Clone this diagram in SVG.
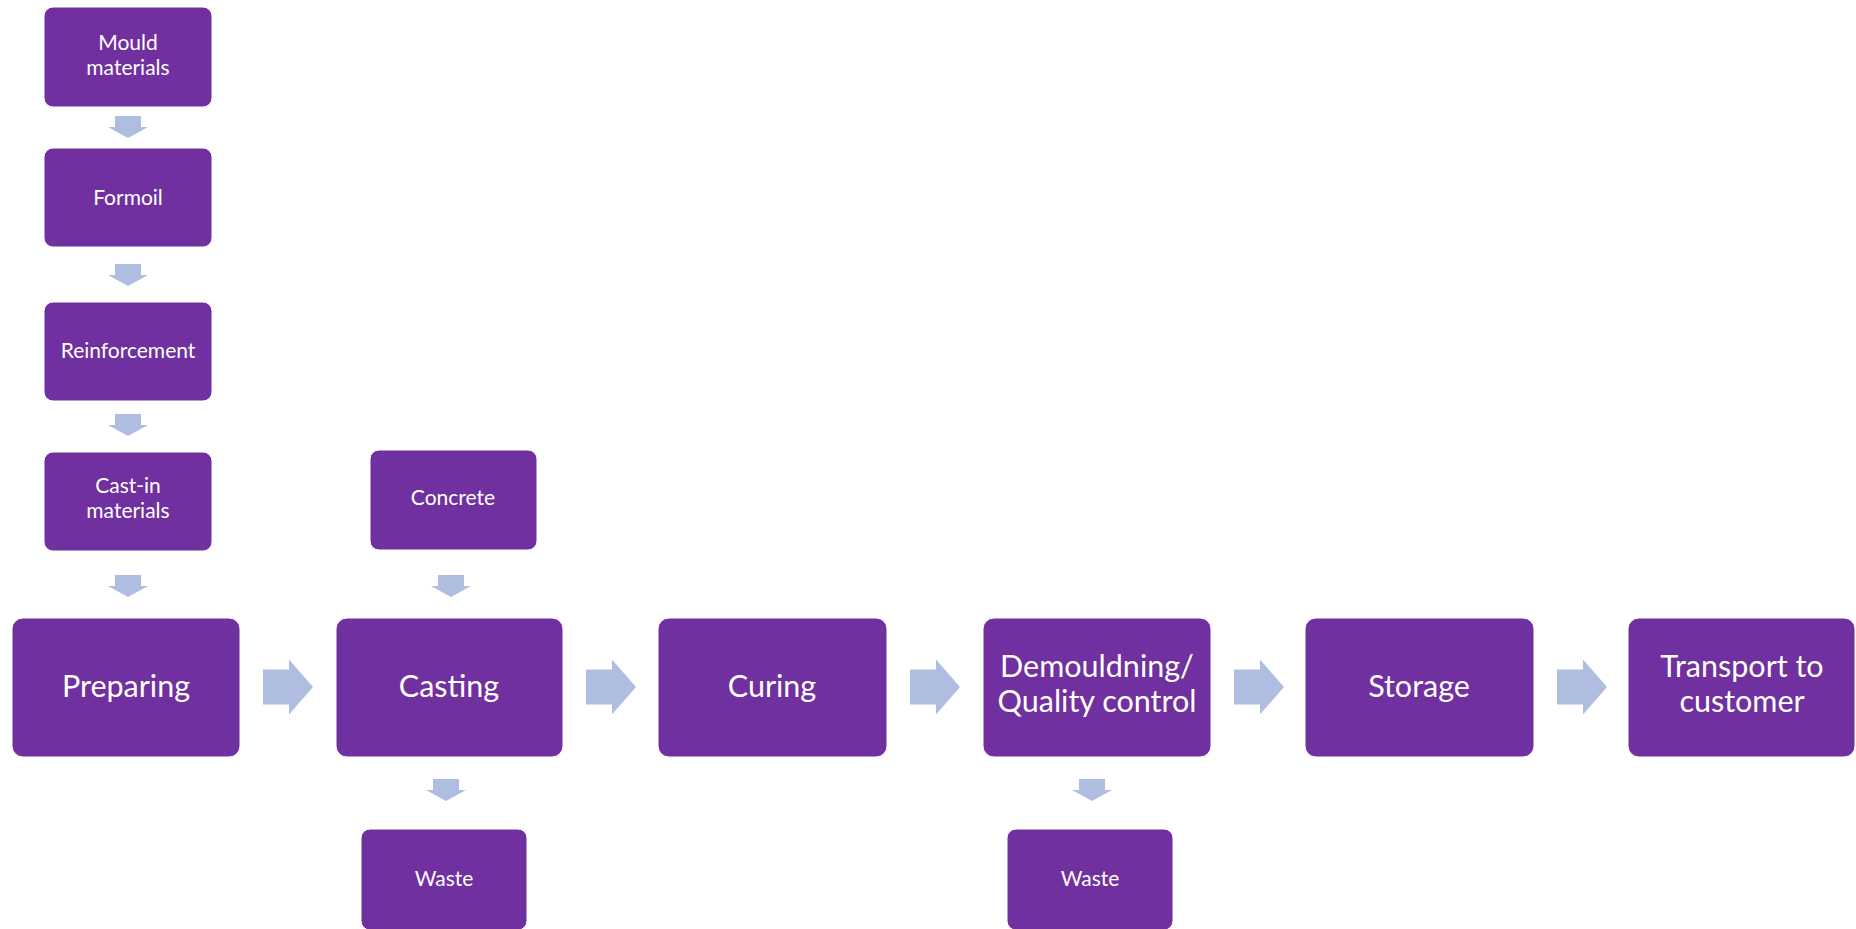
<svg xmlns="http://www.w3.org/2000/svg" width="1856" height="929" viewBox="0 0 1856 929">
<style>
.box{fill:#7030A0;stroke:#ffffff;stroke-width:1}
.arr{fill:#AFBDE0}
.s{font-family:Lato,"Liberation Sans",sans-serif;font-size:21px;fill:#ffffff;text-anchor:middle}
.b{font-family:Lato,"Liberation Sans",sans-serif;font-size:30.5px;fill:#ffffff;text-anchor:middle}
</style>
<defs>
<path id="ra" d="M0,-17.5 H26 V-27.5 L50,0 L26,27.5 V17.5 H0 Z"/>
<path id="da" d="M-13,0 H13 V11 H20 L0,22 L-20,11 H-13 Z"/>
</defs>
<rect width="1856" height="929" fill="#ffffff"/>
<g id="connectors">
<use href="#da" class="arr" x="128" y="116"/>
<use href="#da" class="arr" x="128" y="264"/>
<use href="#da" class="arr" x="128" y="414"/>
<use href="#da" class="arr" x="128" y="575"/>
<use href="#da" class="arr" x="451" y="575"/>
<use href="#da" class="arr" x="446" y="779"/>
<use href="#da" class="arr" x="1092" y="779"/>
<use href="#ra" class="arr" x="263" y="687"/>
<use href="#ra" class="arr" x="586" y="687"/>
<use href="#ra" class="arr" x="910" y="687"/>
<use href="#ra" class="arr" x="1234" y="687"/>
<use href="#ra" class="arr" x="1557" y="687"/>
</g>
<g id="mould"><rect class="box" x="44" y="7" width="168" height="100" rx="9"/><text class="s" x="128" y="50">Mould</text><text class="s" x="128" y="75">materials</text></g>
<g id="formoil"><rect class="box" x="44" y="148" width="168" height="99" rx="9"/><text class="s" x="128" y="205">Formoil</text></g>
<g id="reinforcement"><rect class="box" x="44" y="302" width="168" height="99" rx="9"/><text class="s" x="128" y="358">Reinforcement</text></g>
<g id="castin"><rect class="box" x="44" y="452" width="168" height="99" rx="9"/><text class="s" x="128" y="493">Cast-in</text><text class="s" x="128" y="518">materials</text></g>
<g id="concrete"><rect class="box" x="370" y="450" width="167" height="100" rx="9"/><text class="s" x="453" y="505">Concrete</text></g>
<g id="preparing"><rect class="box" x="12" y="618" width="228" height="139" rx="11"/><text class="b" x="126" y="697">Preparing</text></g>
<g id="casting"><rect class="box" x="336" y="618" width="227" height="139" rx="11"/><text class="b" x="449" y="697">Casting</text></g>
<g id="curing"><rect class="box" x="658" y="618" width="229" height="139" rx="11"/><text class="b" x="772" y="697">Curing</text></g>
<g id="demould"><rect class="box" x="983" y="618" width="228" height="139" rx="11"/><text class="b" x="1097" y="677">Demouldning/</text><text class="b" x="1097" y="712">Quality control</text></g>
<g id="storage"><rect class="box" x="1305" y="618" width="229" height="139" rx="11"/><text class="b" x="1419" y="697">Storage</text></g>
<g id="transport"><rect class="box" x="1628" y="618" width="227" height="139" rx="11"/><text class="b" x="1742" y="677">Transport to</text><text class="b" x="1742" y="712">customer</text></g>
<g id="waste1"><rect class="box" x="361" y="829" width="166" height="101" rx="9"/><text class="s" x="444" y="886">Waste</text></g>
<g id="waste2"><rect class="box" x="1007" y="829" width="166" height="101" rx="9"/><text class="s" x="1090" y="886">Waste</text></g>
</svg>
